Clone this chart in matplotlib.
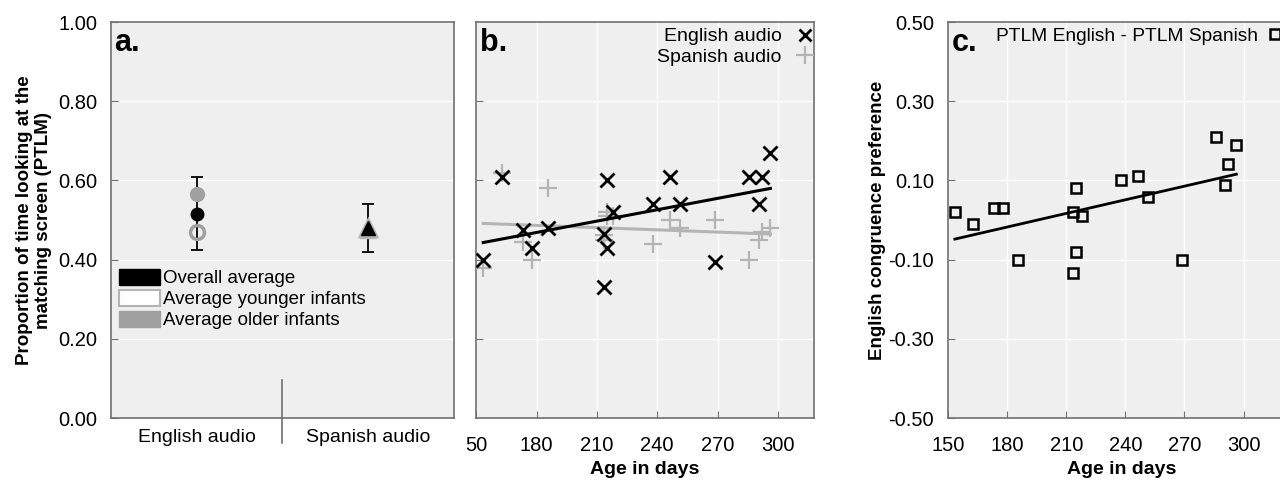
import numpy as np
import matplotlib
matplotlib.use("Agg")
import matplotlib.pyplot as plt
from matplotlib.patches import Patch
from matplotlib.lines import Line2D

plt.rcParams['font.family'] = ['Liberation Sans', 'DejaVu Sans']

# panel a: group means
audio_labels = ["English audio", "Spanish audio"]
overall_mean = [0.515, 0.48]
overall_lo = [0.425, 0.42]
overall_hi = [0.61, 0.54]
younger_mean = [0.47, 0.48]
older_mean = [0.565, 0.475]

# panel b / c: individual infants
age_days = [153.5, 162.8, 173.5, 177.7, 185.5, 215.0, 213.4, 215.0, 213.4, 217.8,
            237.7, 246.5, 251.5, 268.9, 285.8, 292.1, 290.5, 296.3]
ptlm_english = [0.40, 0.61, 0.475, 0.43, 0.48, 0.60, 0.466, 0.43, 0.33, 0.52,
                0.54, 0.61, 0.54, 0.395, 0.61, 0.61, 0.54, 0.67]
ptlm_spanish = [0.38, 0.62, 0.445, 0.40, 0.58, 0.52, 0.45, 0.51, 0.463, 0.51,
                0.44, 0.50, 0.48, 0.50, 0.40, 0.47, 0.45, 0.48]
congruence_pref = [0.02, -0.01, 0.03, 0.03, -0.10, 0.08, 0.02, -0.08, -0.133, 0.01,
                   0.10, 0.112, 0.058, -0.10, 0.209, 0.141, 0.089, 0.19]

bg = '#efefef'
spine_col = '#707070'
light_gray = '#b4b4b4'
mid_gray = '#a0a0a0'

fig = plt.figure(figsize=(12.8, 4.8), dpi=100)
ax_a = fig.add_axes([0.0867, 0.129, 0.268, 0.825])
ax_b = fig.add_axes([0.372, 0.129, 0.264, 0.825])
ax_c = fig.add_axes([0.7406, 0.129, 0.271, 0.825])


def style(ax):
    ax.set_facecolor(bg)
    for s in ax.spines.values():
        s.set_color(spine_col)
        s.set_linewidth(1.2)
    ax.grid(True, color='white', linewidth=1.0)
    ax.set_axisbelow(True)
    ax.tick_params(direction='in', length=5, color=spine_col, labelsize=14.5,
                   top=False, right=False)
    ax.tick_params(axis='y', pad=10)
    ax.tick_params(axis='x', pad=13)


# ---- panel a ----
style(ax_a)
xpos = [0.25, 0.75]
ax_a.set_xlim(0, 1)
ax_a.set_ylim(0, 1)
ax_a.set_yticks([0, 0.2, 0.4, 0.6, 0.8, 1.0])
ax_a.set_yticklabels(['0.00', '0.20', '0.40', '0.60', '0.80', '1.00'])
ax_a.set_xticks(xpos)
ax_a.set_xticklabels(audio_labels, fontsize=14)
ax_a.tick_params(axis='x', length=0, pad=8)
ax_a.grid(False, axis='x')
ax_a.grid(True, axis='y', color='white', linewidth=1.0)

yerr = [[overall_mean[i] - overall_lo[i] for i in range(2)],
        [overall_hi[i] - overall_mean[i] for i in range(2)]]
ax_a.errorbar(xpos, overall_mean, yerr=yerr, fmt='none', ecolor='black',
              elinewidth=1.3, capsize=4, capthick=1.3, zorder=2)
# English: circles
ax_a.plot(xpos[0], younger_mean[0], 'o', ms=10, mfc='none', mec=mid_gray, mew=2.5, zorder=3)
ax_a.plot(xpos[0], older_mean[0], 'o', ms=10, mfc=mid_gray, mec=mid_gray, zorder=3)
ax_a.plot(xpos[0], overall_mean[0], 'o', ms=9, color='black', zorder=4)
# Spanish: triangles
ax_a.plot(xpos[1], younger_mean[1], '^', ms=12, mfc='none', mec=light_gray, mew=2.5, zorder=3)
ax_a.plot(xpos[1], older_mean[1], '^', ms=12, mfc=light_gray, mec=light_gray, zorder=3)
ax_a.plot(xpos[1], overall_mean[1], '^', ms=10, color='black', zorder=4)

ax_a.plot([0.5, 0.5], [0.096, -0.063], color=spine_col, lw=1.2,
          transform=ax_a.transAxes, clip_on=False)
ax_a.text(0.01, 0.985, 'a.', transform=ax_a.transAxes, fontsize=22,
          fontweight='bold', va='top', ha='left')
handles_a = [Patch(facecolor='black', edgecolor='black'),
             Patch(facecolor='white', edgecolor=light_gray, linewidth=1.5),
             Patch(facecolor=mid_gray, edgecolor=mid_gray)]
ax_a.legend(handles_a, ['Overall average', 'Average younger infants', 'Average older infants'],
            loc='upper left', bbox_to_anchor=(-0.01, 0.405), frameon=False,
            fontsize=13.5, handlelength=2.2, handleheight=0.9, handletextpad=0.15,
            labelspacing=0.15, borderaxespad=0.2)
ax_a.set_ylabel('Proportion of time looking at the\nmatching screen (PTLM)',
                fontsize=13.5, fontweight='bold', labelpad=4)

# ---- panel b ----
style(ax_b)
ax_b.set_xlim(150, 318)
ax_b.set_ylim(0, 1)
ax_b.set_xticks([150, 180, 210, 240, 270, 300])
ax_b.set_xticklabels(['50', '180', '210', '240', '270', '300'])
ax_b.set_yticks([0.2, 0.4, 0.6, 0.8])
ax_b.set_yticklabels([])

ages = np.array(age_days)
eng = np.array(ptlm_english)
spa = np.array(ptlm_spanish)
ax_b.plot(ages, spa, '+', ms=13, mew=1.6, color=light_gray, zorder=3)
ax_b.plot(ages, eng, 'x', ms=10, mew=2.0, color='black', zorder=4)
xr = np.array([ages.min(), ages.max()])
ce = np.polyfit(ages, eng, 1)
cs = np.polyfit(ages, spa, 1)
ax_b.plot(xr, np.polyval(cs, xr), color=light_gray, lw=2.2, zorder=2)
ax_b.plot(xr, np.polyval(ce, xr), color='black', lw=2.2, zorder=5)
ax_b.text(0.01, 0.985, 'b.', transform=ax_b.transAxes, fontsize=22,
          fontweight='bold', va='top', ha='left')
handles_b = [Line2D([], [], ls='none', marker='x', ms=9, mew=2.0, color='black'),
             Line2D([], [], ls='none', marker='+', ms=13, mew=1.6, color=light_gray)]
ax_b.legend(handles_b, ['English audio', 'Spanish audio'], loc='upper right',
            bbox_to_anchor=(1.06, 1.03), markerfirst=False, frameon=False,
            fontsize=14, handlelength=1.2, handletextpad=0.6, labelspacing=0.15)
ax_b.set_xlabel('Age in days', fontsize=14, fontweight='bold', labelpad=4)

# ---- panel c ----
style(ax_c)
ax_c.set_xlim(150, 326)
ax_c.set_ylim(-0.5, 0.5)
ax_c.set_xticks([150, 180, 210, 240, 270, 300])
ax_c.set_yticks([-0.5, -0.3, -0.1, 0.1, 0.3, 0.5])
ax_c.set_yticklabels(['-0.50', '-0.30', '-0.10', '0.10', '0.30', '0.50'])
dif = np.array(congruence_pref)
ax_c.plot(ages, dif, 's', ms=7, mfc='none', mec='black', mew=1.8, zorder=3)
cd = np.polyfit(ages, dif, 1)
ax_c.plot(xr, np.polyval(cd, xr), color='black', lw=2.0, zorder=2)
ax_c.text(0.01, 0.985, 'c.', transform=ax_c.transAxes, fontsize=22,
          fontweight='bold', va='top', ha='left')
handles_c = [Line2D([], [], ls='none', marker='s', ms=7, mfc='none', mec='black', mew=1.8)]
ax_c.legend(handles_c, ['PTLM English - PTLM Spanish'], loc='upper left',
            bbox_to_anchor=(0.09, 1.03), markerfirst=False, frameon=False,
            fontsize=13.75, handlelength=0.9, handletextpad=0.4)
ax_c.set_ylabel('English congruence preference', fontsize=13.5, fontweight='bold', labelpad=2)
ax_c.set_xlabel('Age in days', fontsize=14, fontweight='bold', labelpad=4)

fig.savefig('out.png', dpi=100, facecolor='white')
